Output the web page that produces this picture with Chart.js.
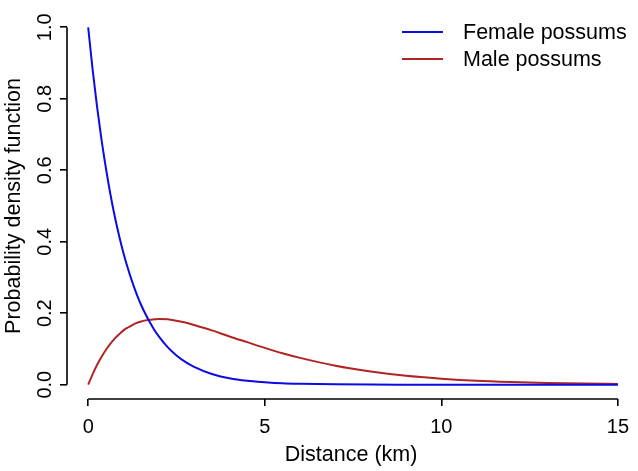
<!DOCTYPE html>
<html>
<head>
<meta charset="utf-8">
<script src="https://cdn.jsdelivr.net/npm/chart.js@4"></script>
<style>
  html, body { margin: 0; padding: 0; background: #fff; }
  #wrap { width: 638px; height: 471px; }
</style>
</head>
<body>
<div id="wrap"><canvas id="pdfChart"></canvas></div>
<script>
// distance (km) at which the curves were read
const distances = [0, 0.125, 0.25, 0.375, 0.5, 0.625, 0.75, 0.875, 1, 1.125, 1.25, 1.375, 1.5, 1.625, 1.75, 1.875, 2, 2.25, 2.5, 2.75, 3, 3.5, 4, 4.5, 5, 5.5, 6, 7, 8, 9, 10, 11, 12, 13, 14, 15];
const femaleDensity = [1.0, 0.882, 0.779, 0.687, 0.607, 0.535, 0.472, 0.417, 0.368, 0.325, 0.287, 0.253, 0.223, 0.197, 0.174, 0.153, 0.135, 0.105, 0.082, 0.064, 0.05, 0.03, 0.018, 0.011, 0.007, 0.004, 0.0025, 0.001, 0.0003, 0.0001, 0, 0, 0, 0, 0, 0];
const maleDensity = [0, 0.029, 0.055, 0.0775, 0.097, 0.114, 0.129, 0.141, 0.152, 0.160, 0.167, 0.173, 0.177, 0.180, 0.182, 0.183, 0.184, 0.183, 0.179, 0.174, 0.167, 0.152, 0.135, 0.119, 0.103, 0.088, 0.075, 0.053, 0.037, 0.025, 0.017, 0.011, 0.0074, 0.0049, 0.0032, 0.002];
const xTicks = [0, 5, 10, 15];
const yTicks = [0, 0.2, 0.4, 0.6, 0.8, 1.0];
const seriesNames = ['Female possums', 'Male possums'];
const seriesColors = ['#0b0be6', '#b22424'];

const FONT = 'Liberation Sans, Arial, Helvetica, sans-serif';

function toPoints(ys) {
    return distances.map((d, i) => ({ x: d, y: ys[i] }));
}

// R-style axes: line only spans first..last tick, legend top right
const rAxes = {
    id: 'rAxes',
    afterDraw(chart) {
        const ctx = chart.ctx;
        const xs = chart.scales.x, ys = chart.scales.y;
        const area = chart.chartArea;
        ctx.save();
        ctx.strokeStyle = '#000';
        ctx.lineWidth = 1.6;
        ctx.beginPath();
        ctx.moveTo(xs.getPixelForValue(xTicks[0]), area.bottom);
        ctx.lineTo(xs.getPixelForValue(xTicks[xTicks.length - 1]), area.bottom);
        ctx.moveTo(area.left, ys.getPixelForValue(yTicks[0]));
        ctx.lineTo(area.left, ys.getPixelForValue(yTicks[yTicks.length - 1]));
        ctx.stroke();

        // legend
        ctx.font = '21.5px ' + FONT;
        ctx.textBaseline = 'middle';
        ctx.fillStyle = '#000';
        chart.data.datasets.forEach((ds, i) => {
            const y = 32 + i * 27;
            ctx.strokeStyle = ds.borderColor;
            ctx.lineWidth = 2;
            ctx.beginPath();
            ctx.moveTo(402, y);
            ctx.lineTo(443, y);
            ctx.stroke();
            ctx.fillText(ds.label, 463, y + 1);
        });
        ctx.restore();
    }
};

const ctx = document.getElementById('pdfChart').getContext('2d');
new Chart(ctx, {
    type: 'line',
    data: {
        datasets: [
            {
                label: seriesNames[0],
                data: toPoints(femaleDensity),
                borderColor: seriesColors[0],
                borderWidth: 2,
                pointRadius: 0,
                cubicInterpolationMode: 'monotone',
                fill: false
            },
            {
                label: seriesNames[1],
                data: toPoints(maleDensity),
                borderColor: seriesColors[1],
                borderWidth: 2,
                pointRadius: 0,
                cubicInterpolationMode: 'monotone',
                fill: false
            }
        ]
    },
    options: {
        responsive: true,
        maintainAspectRatio: false,
        animation: false,
        layout: { padding: { top: 5, right: 0, left: 0, bottom: 0 } },
        plugins: {
            legend: { display: false },
            tooltip: { enabled: false }
        },
        scales: {
            x: {
                type: 'linear',
                min: -0.6,
                max: 15.49,
                afterFit: s => { s.height = 72; },
                afterBuildTicks: s => { s.ticks = xTicks.map(v => ({ value: v })); },
                border: { display: false },
                grid: { drawOnChartArea: false, drawTicks: true, tickLength: 7, color: '#000', lineWidth: 1.6 },
                ticks: { color: '#000', padding: 9, font: { family: FONT, size: 20 }, maxRotation: 0 },
                title: {
                    display: true,
                    text: 'Distance (km)',
                    color: '#000',
                    font: { family: FONT, size: 21.5 },
                    padding: { top: 0, bottom: 3 }
                }
            },
            y: {
                type: 'linear',
                min: -0.04,
                max: 1.04,
                afterFit: s => { s.width = 67; },
                afterBuildTicks: s => { s.ticks = yTicks.map(v => ({ value: v })); },
                border: { display: false },
                grid: { drawOnChartArea: false, drawTicks: true, tickLength: 7, color: '#000', lineWidth: 1.6 },
                ticks: {
                    color: '#000',
                    padding: 1,
                    crossAlign: 'center',
                    minRotation: 90,
                    maxRotation: 90,
                    font: { family: FONT, size: 20 },
                    callback: v => v.toFixed(1)
                },
                title: {
                    display: true,
                    text: 'Probability density function',
                    color: '#000',
                    font: { family: FONT, size: 21.5 },
                    padding: { top: 1, bottom: 0 }
                }
            }
        }
    },
    plugins: [rAxes]
});
</script>
</body>
</html>
